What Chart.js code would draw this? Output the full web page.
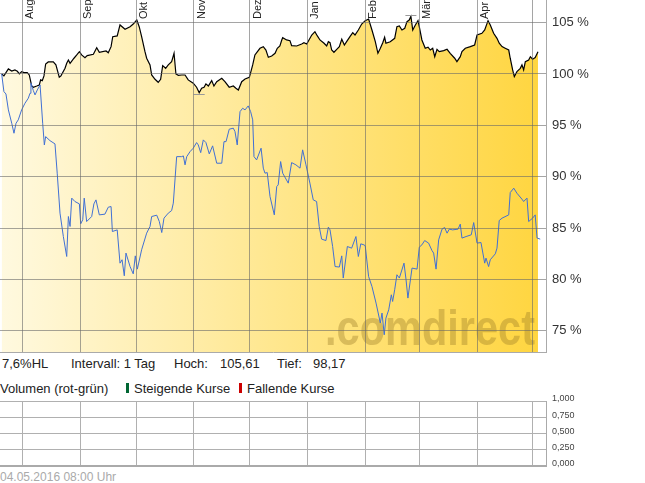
<!DOCTYPE html>
<html lang="de">
<head>
    <meta charset="UTF-8">
    <title>Chart</title>
    <script src="https://cdn.jsdelivr.net/npm/chart.js"></script>
    <style>
        body {
            margin: 0;
            width: 645px;
            height: 483px;
            position: relative;
            overflow: hidden;
            background: #fff;
            font-family: Arial, "Liberation Sans", sans-serif;
            color: #222;
        }
        #main { position: absolute; left: 0; top: 0; width: 645px; height: 353px; }
        #vol { position: absolute; left: 0; top: 390px; width: 645px; height: 80px; }
        .t { position: absolute; font-size: 13px; line-height: 15px; white-space: nowrap; }
        .bar { position: absolute; width: 3px; height: 10px; top: 383px; }
        .stamp { position: absolute; left: 0; top: 470px; font-size: 12px; line-height: 14px; color: #aaa; }
    </style>
</head>
<body>
    <div id="main"><canvas id="mainChart"></canvas></div>

    <span class="t" style="left:2px; top:356px">7,6%HL</span>
    <span class="t" style="left:71px; top:356px">Intervall: 1 Tag</span>
    <span class="t" style="left:174px; top:356px">Hoch:</span>
    <span class="t" id="hoch" style="left:220px; top:356px"></span>
    <span class="t" style="left:277px; top:356px">Tief:</span>
    <span class="t" id="tief" style="left:313px; top:356px"></span>

    <span class="t" style="left:0px; top:381px">Volumen (rot-grün)</span>
    <span class="bar" style="left:126px; background:#006633"></span>
    <span class="t" style="left:134px; top:381px">Steigende Kurse</span>
    <span class="bar" style="left:239px; background:#cc0000"></span>
    <span class="t" style="left:247px; top:381px">Fallende Kurse</span>

    <div id="vol"><canvas id="volChart"></canvas></div>
    <div class="stamp">04.05.2016 08:00 Uhr</div>

    <script>
        // x = Tage ab 20.07.2015
        const monthDays = [12, 43, 73, 104, 134, 165, 196, 225, 256, 286];
        const monthLabels = ['Aug', 'Sep', 'Okt', 'Nov', 'Dez', 'Jan', 'Feb', 'Mär', 'Apr', ''];
        const yTicks = [75, 80, 85, 90, 95, 100, 105];
        const volTicks = [0, 0.125, 0.25, 0.375, 0.5, 0.625, 0.75, 0.875, 1];

        const hoch = 105.61;
        const tief = 98.17;

        // schwarze Linie (gefuellt)
        const blackDays = [0.9,2.1,4.5,6.3,8.0,9.3,10.4,11.6,12.9,14.6,15.7,17.0,17.9,19.7,21.1,21.8,22.7,23.6,24.5,25.9,28.6,30.0,31.8,32.7,34.9,35.8,36.7,37.6,39.7,41.2,42.6,43.8,45.6,46.8,50.1,51.9,53.3,56.9,58.1,59.6,60.5,62.9,64.4,67.1,69.8,71.5,73.4,74.7,76.0,77.8,78.7,80.5,81.4,83.2,84.9,86.2,87.3,88.9,90.3,92.1,93.4,94.4,95.7,97.5,99.3,101.0,103.7,105.5,106.9,108.2,109.5,110.5,111.8,113.6,114.8,116.3,119.0,120.7,123.0,125.2,126.6,127.9,129.7,131.5,133.8,134.5,135.6,136.8,139.5,141.3,142.7,144.0,145.8,147.6,148.8,150.2,151.2,151.7,153.8,155.6,156.5,159.2,161.9,163.1,164.6,167.3,169.0,170.3,171.7,173.9,175.3,176.2,177.1,178.0,179.2,180.7,182.1,183.4,184.8,186.0,187.8,189.3,190.5,192.3,194.1,196.0,197.8,199.6,201.4,202.8,204.1,205.4,206.4,207.1,209.4,211.8,213.0,214.3,215.7,217.2,218.4,219.6,220.5,221.5,222.9,224.3,225.0,226.4,228.2,229.7,230.9,232.2,233.3,234.5,235.7,238.1,239.9,241.6,244.0,245.2,247.0,247.9,249.7,252.4,254.7,256.0,258.6,260.1,261.9,263.1,264.9,266.7,267.9,269.4,271.1,273.0,273.8,275.1,276.0,277.4,279.2,280.1,281.0,281.9,283.7,284.6,285.8,287.2,288.7];
        const blackValues = [100.00,99.81,100.49,100.29,100.39,100.26,100.00,100.22,100.13,100.13,99.90,98.83,98.71,98.83,98.93,99.42,99.35,99.81,100.97,101.17,101.17,100.88,99.68,99.81,100.55,101.04,101.36,101.04,101.53,101.85,102.17,101.85,101.59,101.78,101.92,102.56,102.11,102.24,102.07,102.66,103.63,103.70,104.77,104.35,104.60,104.86,105.25,104.60,103.63,102.17,101.53,100.88,99.90,99.48,99.19,99.48,100.81,100.55,100.88,101.20,102.01,100.00,99.87,99.90,99.90,99.42,99.10,98.71,98.17,98.61,98.71,99.03,98.83,99.35,98.83,99.25,99.58,99.25,98.71,98.83,98.61,98.44,99.25,99.51,99.68,100.13,100.88,101.85,102.50,102.66,102.33,101.62,101.75,102.01,102.50,102.72,103.31,103.53,103.31,103.24,102.75,102.72,102.92,103.04,102.92,103.79,104.12,103.70,103.31,102.99,102.72,103.14,103.04,102.33,102.11,102.40,102.66,103.38,102.82,103.14,103.63,104.02,103.79,104.28,104.86,105.19,105.35,104.28,103.14,102.01,102.50,103.04,103.57,102.99,103.14,103.47,104.60,104.67,104.28,104.45,105.09,105.25,105.61,104.28,104.77,105.19,104.60,103.31,102.50,102.60,102.33,102.50,101.68,102.40,102.17,102.27,102.40,102.01,101.53,101.20,101.68,102.17,102.50,102.66,102.82,103.79,103.96,104.28,105.19,104.77,103.96,103.47,102.99,102.66,102.50,102.33,101.53,100.39,99.74,100.22,100.55,100.88,100.39,101.20,101.36,101.68,101.43,101.59,102.17];

        // blaue Vergleichslinie
        const blueDays = [0.9,2.1,3.2,4.5,6.3,7.5,8.6,9.8,11.6,13.4,15.2,16.1,16.6,17.9,18.8,20.0,21.5,22.9,23.8,24.5,26.8,29.5,30.7,32.2,34.0,35.8,36.7,37.6,38.5,40.2,42.6,43.3,44.4,45.2,46.5,49.2,50.4,51.5,53.3,56.3,58.1,59.6,60.3,62.9,64.4,65.5,66.7,67.6,69.8,71.5,72.6,73.7,76.0,78.7,80.5,81.4,84.1,85.5,86.8,88.0,90.3,92.1,93.0,94.8,97.5,98.4,99.3,100.2,102.0,103.7,105.5,106.4,107.7,109.1,110.5,112.3,114.1,116.3,119.0,120.2,121.3,123.0,125.2,126.1,127.3,128.8,130.2,131.5,133.2,134.5,135.6,136.3,137.7,140.1,141.3,142.2,143.4,144.9,147.2,148.5,149.3,150.6,151.7,154.7,156.5,158.8,161.0,162.4,164.2,166.3,168.1,169.9,171.3,172.6,174.9,176.2,177.1,178.5,179.8,182.1,183.4,184.2,186.4,188.7,191.0,192.3,193.6,195.3,196.0,197.8,199.6,201.8,204.1,205.0,206.2,207.1,208.6,210.0,210.7,211.8,213.0,214.3,216.8,217.9,218.9,221.1,223.8,225.0,226.4,227.9,230.0,231.8,232.7,234.0,235.4,237.2,238.6,239.9,241.1,242.9,245.8,247.0,247.9,250.1,252.9,254.2,256.0,258.1,260.1,260.8,262.2,263.1,265.8,266.7,267.9,269.4,273.0,273.8,275.7,277.4,280.1,281.0,282.8,283.7,285.8,287.2,288.2,289.9];
        const blueValues = [100.00,98.28,98.05,96.50,95.20,94.23,95.20,95.53,96.50,97.15,97.64,98.12,99.10,98.38,97.96,98.44,98.93,95.20,93.09,93.90,93.51,93.19,90.34,86.45,84.17,82.23,86.12,85.15,87.91,87.58,87.35,85.41,85.80,87.91,85.63,86.12,87.35,87.74,86.28,86.35,87.03,87.09,84.66,84.82,81.58,81.91,80.35,82.56,81.25,80.54,82.29,81.00,82.88,84.50,85.15,86.12,86.25,85.63,84.56,85.96,86.45,86.70,87.42,91.95,91.95,92.02,91.15,91.95,92.44,92.77,93.32,93.09,92.34,93.58,93.32,92.22,93.00,91.31,91.31,93.41,93.41,94.62,94.72,94.39,93.09,96.33,96.66,96.50,96.89,96.33,95.53,91.95,91.63,92.77,90.83,90.34,90.40,88.06,86.28,89.04,89.20,91.47,90.34,89.37,91.37,91.15,90.83,92.61,91.15,89.37,87.74,87.58,85.15,83.92,83.78,85.09,84.82,83.20,81.25,81.20,82.29,80.13,83.20,83.04,84.17,82.23,83.46,83.36,83.27,80.28,79.31,77.69,75.75,76.72,74.61,76.23,77.04,78.50,77.85,78.99,80.45,80.13,81.58,79.96,78.18,81.10,81.00,83.14,83.36,83.78,83.53,82.81,82.56,81.00,83.85,84.89,85.05,84.50,84.89,84.82,84.89,85.38,84.02,84.17,84.34,85.53,83.53,83.59,81.58,82.07,81.25,81.91,82.49,83.04,85.73,85.96,86.28,88.45,88.88,88.39,87.81,87.58,87.91,85.63,85.96,86.28,84.02,83.92];

        // Volumen: keine Daten vorhanden
        const volDays = [];
        const volValues = [];

        const fmt = (v, d) => v.toFixed(d).replace('.', ',');
        document.getElementById('hoch').textContent = fmt(hoch, 2);
        document.getElementById('tief').textContent = fmt(tief, 2);

        function zip(xs, ys) {
            const n = Math.min(xs.length, ys.length);
            const out = [];
            for (let i = 0; i < n; i++) out.push({ x: xs[i], y: ys[i] });
            return out;
        }

        Chart.defaults.font.family = 'Arial, "Liberation Sans", sans-serif';
        Chart.defaults.animation = false;

        const fillLeft = 'rgb(255, 249, 224)';
        const fillRight = 'rgb(255, 213, 62)';
        const gridCol = 'rgba(105, 105, 105, 0.6)';

        const decor = {
            id: 'decor',
            afterDatasetDraw(chart, args) {
                if (args.index !== 1) return;
                const c = chart.ctx;
                const xs = chart.scales.x, ys = chart.scales.y;
                // Wasserzeichen
                c.save();
                c.font = 'bold 50px Arial, "Liberation Sans", sans-serif';
                const txt = '.comdirect';
                const w = c.measureText(txt).width;
                c.translate(325, 345);
                c.scale(210 / w, 1);
                c.fillStyle = 'rgba(150, 118, 36, 0.36)';
                c.textBaseline = 'alphabetic';
                c.fillText(txt, 0, 0);
                c.restore();
                // Hoch/Tief Markierung
                const iHi = blackValues.indexOf(Math.max(...blackValues));
                const iLo = blackValues.indexOf(Math.min(...blackValues));
                c.save();
                c.strokeStyle = '#999';
                c.lineWidth = 1;
                [[iHi, hoch, -1.5], [iLo, tief, 1.5]].forEach(([i, v, dy]) => {
                    const px = xs.getPixelForValue(blackDays[i]);
                    const py = Math.round(ys.getPixelForValue(v) + dy) + 0.5;
                    c.beginPath();
                    c.moveTo(px - 5.5, py);
                    c.lineTo(px + 5.5, py);
                    c.stroke();
                });
                c.restore();
            },
            afterDraw(chart) {
                const c = chart.ctx;
                const xs = chart.scales.x;
                c.save();
                c.font = '11px Arial, "Liberation Sans", sans-serif';
                c.fillStyle = '#222';
                c.textAlign = 'left';
                c.textBaseline = 'alphabetic';
                monthDays.forEach((d, i) => {
                    if (!monthLabels[i]) return;
                    const px = Math.round(xs.getPixelForValue(d));
                    c.save();
                    c.translate(px + 11, 19);
                    c.rotate(-Math.PI / 2);
                    c.fillText(monthLabels[i], 0, 0);
                    c.restore();
                });
                c.restore();
            }
        };

        const mainChart = new Chart(document.getElementById('mainChart'), {
            type: 'line',
            data: {
                datasets: [{
                    label: 'Vergleich',
                    data: zip(blueDays, blueValues),
                    borderColor: '#4170d4',
                    borderWidth: 1,
                    pointRadius: 0,
                    tension: 0,
                    fill: false
                }, {
                    label: 'Kurs',
                    data: zip(blackDays, blackValues),
                    borderColor: '#000',
                    borderWidth: 1.2,
                    pointRadius: 0,
                    tension: 0,
                    fill: 'start',
                    backgroundColor: (ctx) => {
                        const a = ctx.chart.chartArea;
                        if (!a) return fillLeft;
                        const g = ctx.chart.ctx.createLinearGradient(a.left, 0, a.right, 0);
                        g.addColorStop(0, fillLeft);
                        g.addColorStop(1, fillRight);
                        return g;
                    }
                }]
            },
            options: {
                responsive: true,
                maintainAspectRatio: false,
                layout: { padding: { left: 0, right: 0, top: 0, bottom: 1 } },
                plugins: { legend: { display: false }, tooltip: { enabled: false } },
                scales: {
                    x: {
                        type: 'linear',
                        min: 0,
                        max: 293,
                        afterBuildTicks: (s) => { s.ticks = monthDays.map(v => ({ value: v })); },
                        afterFit: (s) => { s.height = 0; s.paddingLeft = 0; s.paddingRight = 0; },
                        ticks: { display: false },
                        grid: { color: gridCol, lineWidth: 1, drawTicks: false, z: 1 },
                        border: { display: true, color: '#aaa', width: 1, z: 2 }
                    },
                    y: {
                        type: 'linear',
                        position: 'right',
                        min: 72.93,
                        max: 107.2,
                        afterBuildTicks: (s) => { s.ticks = yTicks.map(v => ({ value: v })); },
                        afterFit: (s) => { s.width = 99; s.paddingTop = 0; s.paddingBottom = 0; },
                        ticks: {
                            padding: 6,
                            color: '#333',
                            font: { size: 13 },
                            callback: (v) => v + ' %'
                        },
                        grid: { color: gridCol, lineWidth: 1, drawTicks: false, z: 1 },
                        border: { display: true, color: '#aaa', width: 1, z: 2 }
                    }
                }
            },
            plugins: [decor]
        });

        const volChart = new Chart(document.getElementById('volChart'), {
            type: 'bar',
            data: {
                datasets: [{ label: 'Volumen', data: zip(volDays, volValues), backgroundColor: '#006633' }]
            },
            options: {
                responsive: true,
                maintainAspectRatio: false,
                layout: { padding: { left: 0, right: 0, top: 11, bottom: 4 } },
                plugins: { legend: { display: false }, tooltip: { enabled: false } },
                scales: {
                    x: {
                        type: 'linear',
                        min: 0,
                        max: 293,
                        offset: false,
                        afterBuildTicks: (s) => { s.ticks = monthDays.map(v => ({ value: v })); },
                        afterFit: (s) => { s.height = 0; s.paddingLeft = 0; s.paddingRight = 0; },
                        ticks: { display: false },
                        grid: { color: '#b0b0b0', lineWidth: 1, drawTicks: false, offset: false },
                        border: { display: true, color: '#aaa', width: 2 }
                    },
                    y: {
                        type: 'linear',
                        position: 'right',
                        min: 0,
                        max: 1,
                        afterBuildTicks: (s) => { s.ticks = volTicks.map(v => ({ value: v })); },
                        afterFit: (s) => { s.width = 99; s.paddingTop = 0; s.paddingBottom = 0; },
                        ticks: {
                            padding: 6,
                            labelOffset: -2,
                            color: '#444',
                            font: { size: 9 },
                            callback: (v) => (Math.abs(v * 4 - Math.round(v * 4)) < 1e-9 ? fmt(v, 3) : '')
                        },
                        grid: { color: '#b0b0b0', lineWidth: 1, drawTicks: false },
                        border: { display: true, color: '#aaa', width: 1 }
                    }
                }
            }
        });
    </script>
</body>
</html>
